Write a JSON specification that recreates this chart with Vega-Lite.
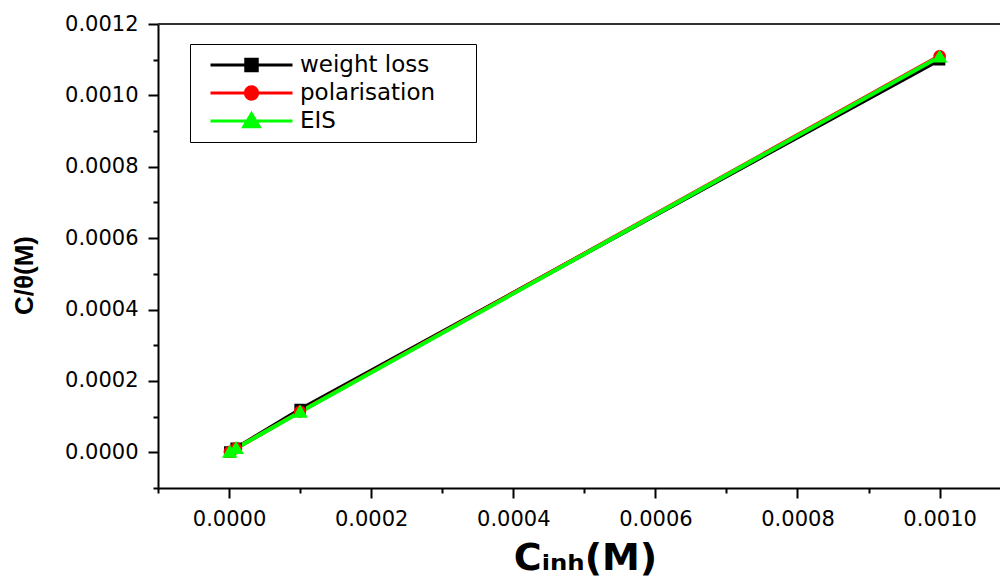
{
  "$schema": "https://vega.github.io/schema/vega-lite/v6.json",
  "width": 842,
  "height": 464,
  "autosize": "none",
  "padding": {"left": 158, "top": 24, "right": 0, "bottom": 91},
  "background": "white",
  "config": {"view": {"stroke": null}, "font": "DejaVu Sans"},
  "data": {
    "values": [
      {"series": "weight loss", "c": 0.000001, "ct": 0.0000012},
      {"series": "weight loss", "c": 0.00001, "ct": 0.0000115},
      {"series": "weight loss", "c": 0.0001, "ct": 0.00012},
      {"series": "weight loss", "c": 0.001, "ct": 0.0011},
      {"series": "polarisation", "c": 0.000001, "ct": 0.0000011},
      {"series": "polarisation", "c": 0.00001, "ct": 0.0000112},
      {"series": "polarisation", "c": 0.0001, "ct": 0.000114},
      {"series": "polarisation", "c": 0.001, "ct": 0.00111},
      {"series": "EIS", "c": 0.000001, "ct": 0.00000115},
      {"series": "EIS", "c": 0.00001, "ct": 0.0000113},
      {"series": "EIS", "c": 0.0001, "ct": 0.000113},
      {"series": "EIS", "c": 0.001, "ct": 0.001108}
    ]
  },
  "layer": [
    {
      "mark": {"type": "rule", "color": "#333333", "strokeWidth": 1.5},
      "encoding": {
        "y": {
          "datum": 0.0012,
          "type": "quantitative",
          "scale": {"domain": [-0.0001, 0.0012], "nice": false, "zero": false},
          "axis": {
            "values": [-0.0001, 0, 0.0001, 0.0002, 0.0003, 0.0004, 0.0005, 0.0006, 0.0007, 0.0008, 0.0009, 0.001, 0.0011, 0.0012],
            "labelExpr": "abs(round(datum.value*10000)) % 2 == 0 ? format(datum.value, '.4f') : ''",
            "tickSize": {"condition": {"test": "abs(round(datum.value*10000)) % 2 == 0", "value": 10}, "value": 5},
            "tickWidth": 2,
            "tickColor": "black",
            "domainColor": "black",
            "domainWidth": 2,
            "grid": false,
            "labelOverlap": false,
            "labelFlush": false,
            "labelFont": "DejaVu Sans",
            "labelFontSize": 21,
            "labelColor": "black",
            "labelPadding": 10,
            "title": "C/θ(M)",
            "titleFont": "Liberation Sans",
            "titleFontSize": 26,
            "titleFontWeight": "bold",
            "titleColor": "black",
            "titleX": -134,
            "titleY": 251,
            "titleAngle": -90,
            "titleAlign": "center",
            "titleBaseline": "middle"
          }
        }
      }
    },
    {
      "encoding": {
        "x": {
          "field": "c",
          "type": "quantitative",
          "scale": {"domain": [-0.0001, 0.001085], "nice": false, "zero": false},
          "axis": {
            "values": [-0.0001, 0, 0.0001, 0.0002, 0.0003, 0.0004, 0.0005, 0.0006, 0.0007, 0.0008, 0.0009, 0.001],
            "labelExpr": "abs(round(datum.value*10000)) % 2 == 0 ? format(datum.value, '.4f') : ''",
            "tickSize": {"condition": {"test": "abs(round(datum.value*10000)) % 2 == 0", "value": 10}, "value": 5},
            "tickWidth": 2,
            "tickColor": "black",
            "domainColor": "black",
            "domainWidth": 2,
            "grid": false,
            "labelOverlap": false,
            "labelFlush": false,
            "labelFont": "DejaVu Sans",
            "labelFontSize": 21,
            "labelColor": "black",
            "labelPadding": 10,
            "title": "Cᵢₙₕ(M)",
            "titleFont": "DejaVu Sans",
            "titleFontSize": 38,
            "titleFontWeight": "bold",
            "titleColor": "black",
            "titleX": 427,
            "titleY": 81,
            "titleAlign": "center",
            "titleBaseline": "alphabetic"
          }
        },
        "y": {
          "field": "ct",
          "type": "quantitative",
          "scale": {"domain": [-0.0001, 0.0012], "nice": false, "zero": false},
          "axis": {
            "values": [-0.0001, 0, 0.0001, 0.0002, 0.0003, 0.0004, 0.0005, 0.0006, 0.0007, 0.0008, 0.0009, 0.001, 0.0011, 0.0012],
            "labelExpr": "abs(round(datum.value*10000)) % 2 == 0 ? format(datum.value, '.4f') : ''",
            "tickSize": {"condition": {"test": "abs(round(datum.value*10000)) % 2 == 0", "value": 10}, "value": 5},
            "tickWidth": 2,
            "tickColor": "black",
            "domainColor": "black",
            "domainWidth": 2,
            "grid": false,
            "labelOverlap": false,
            "labelFlush": false,
            "labelFont": "DejaVu Sans",
            "labelFontSize": 21,
            "labelColor": "black",
            "labelPadding": 10,
            "title": "C/θ(M)",
            "titleFont": "Liberation Sans",
            "titleFontSize": 26,
            "titleFontWeight": "bold",
            "titleColor": "black",
            "titleX": -134,
            "titleY": 251,
            "titleAngle": -90,
            "titleAlign": "center",
            "titleBaseline": "middle"
          }
        },
        "color": {
          "field": "series",
          "type": "nominal",
          "scale": {"domain": ["weight loss", "polarisation", "EIS"], "range": ["#000000", "#ff0000", "#00ff00"]},
          "legend": {
            "orient": "none",
            "legendX": 32,
            "legendY": 20,
            "title": null,
            "padding": 7,
            "strokeColor": "black",
            "clipHeight": 28,
            "rowPadding": 0,
            "symbolOffset": 12,
            "labelOffset": 6,
            "labelFont": "DejaVu Sans",
            "labelFontSize": 23,
            "labelColor": "black",
            "labelLimit": 400,
            "labelExpr": "datum.label + '\u2800\u2800'",
            "symbolSize": 6724,
            "symbolStrokeWidth": 3,
            "encode": {
              "symbols": {
                "update": {
                  "strokeWidth": {"value": 3},
                  "stroke": {"signal": "scale('color', datum.value)"},
                  "opacity": {"value": 1}
                }
              }
            }
          }
        }
      },
      "layer": [
        {"mark": {"type": "line", "strokeWidth": 4}},
        {
          "mark": {"type": "point", "filled": true, "size": 6724, "opacity": 1},
          "encoding": {
            "shape": {
              "field": "series",
              "type": "nominal",
              "scale": {
                "domain": ["weight loss", "polarisation", "EIS"],
                "range": [
                  "M-1,0H1M-0.14,-0.14H0.14V0.14H-0.14Z",
                  "M-1,0H1M-0.15,0A0.15,0.15,0,1,0,0.15,0A0.15,0.15,0,1,0,-0.15,0Z",
                  "M-1,0H1M-0.19,0.14L0.19,0.14L0,-0.18Z"
                ]
              }
            }
          }
        }
      ]
    }
  ]
}
